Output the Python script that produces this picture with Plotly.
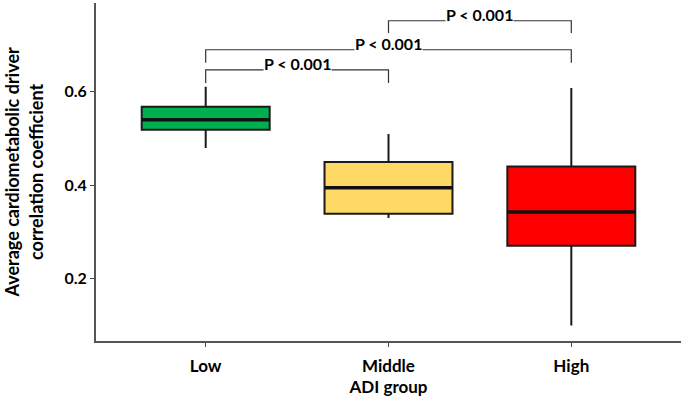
import plotly.graph_objects as go

groups = ["Low", "Middle", "High"]
lower = [0.480, 0.330, 0.100]
q1 = [0.519, 0.339, 0.271]
median = [0.540, 0.395, 0.343]
q3 = [0.568, 0.450, 0.440]
upper = [0.611, 0.510, 0.608]
colors = ["#00B050", "#FFD966", "#FF0000"]

# comparisons: (group a, group b, bracket y, leg bottom y, label)
pairs = [(0, 1, 0.647, 0.619, "P < 0.001"),
         (0, 2, 0.690, 0.662, "P < 0.001"),
         (1, 2, 0.752, 0.726, "P < 0.001")]

FONT = "Lato"
fig = go.Figure()

for i, g in enumerate(groups):
    fig.add_trace(go.Box(
        x=[i], q1=[q1[i]], median=[median[i]], q3=[q3[i]],
        lowerfence=[lower[i]], upperfence=[upper[i]],
        width=0.7, whiskerwidth=0,
        fillcolor=colors[i],
        line=dict(color="#1a1a1a", width=2),
        name=g, showlegend=False, hoverinfo="skip",
    ))
    # thicker median
    fig.add_trace(go.Scatter(
        x=[i - 0.35, i + 0.35], y=[median[i], median[i]],
        mode="lines", line=dict(color="#111111", width=3.5),
        showlegend=False, hoverinfo="skip",
    ))

for a, b, yb, yl, lab in pairs:
    fig.add_trace(go.Scatter(
        x=[a, a, b, b], y=[yl, yb, yb, yl],
        mode="lines", line=dict(color="#333333", width=1.2),
        showlegend=False, hoverinfo="skip",
    ))
    fig.add_annotation(
        x=(a + b) / 2, y=yb, text="<b>%s</b>" % lab, showarrow=False,
        yanchor="bottom", yshift=-4, bgcolor="white", borderpad=0,
        font=dict(family=FONT, size=16, color="black"),
    )

# y-axis title
fig.add_annotation(
    xref="paper", yref="paper", x=-0.124, y=0.5, xanchor="center", yanchor="middle",
    text="<b>Average cardiometabolic driver<br>correlation coefficient</b>",
    textangle=-90, showarrow=False, font=dict(family=FONT, size=18, color="black"),
)

fig.update_layout(
    width=688, height=401,
    margin=dict(l=96, r=7, t=3, b=60),
    plot_bgcolor="white", paper_bgcolor="white",
    font=dict(family=FONT, color="black"),
    xaxis=dict(
        range=[-0.6, 2.6], tickvals=[0, 1, 2],
        ticktext=["<b>%s</b>" % g for g in groups],
        tickfont=dict(size=17), ticks="outside", ticklen=4, tickcolor="#444",
        showline=True, linecolor="#555555", linewidth=2, showgrid=False, zeroline=False,
        automargin=False, ticklabelstandoff=5,
        title=dict(text="<b>ADI group</b>", font=dict(size=17), standoff=2),
    ),
    yaxis=dict(
        range=[0.067, 0.79], tickvals=[0.2, 0.4, 0.6],
        ticktext=["<b>0.2</b>", "<b>0.4</b>", "<b>0.6</b>"],
        tickfont=dict(size=16), ticks="outside", ticklen=4, tickcolor="#444",
        showline=True, linecolor="#555555", linewidth=2, showgrid=False, zeroline=False,
        automargin=False,
    ),
)

fig.write_html("out.html", config={"displayModeBar": False},
               post_script="document.body.style.margin='0';")
